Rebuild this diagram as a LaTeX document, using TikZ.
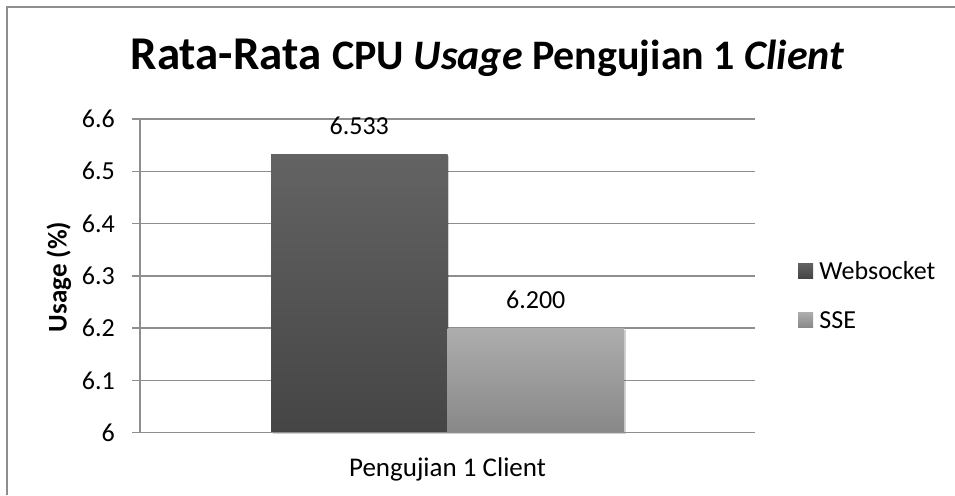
\documentclass[tikz,border=0pt]{standalone}
\usepackage{fontspec}
\setmainfont{Carlito}
\usetikzlibrary{positioning,shadows}

\definecolor{gridgray}{HTML}{8E8E8E}
\definecolor{wstop}{HTML}{636363}
\definecolor{wsbottom}{HTML}{454545}
\definecolor{ssetop}{HTML}{ADADAD}
\definecolor{ssebottom}{HTML}{888888}

\begin{document}
\begin{tikzpicture}[
    x=1pt, y=-1pt,
    gridline/.style={
        draw=gridgray,
        line width=1.3pt,
    },
    ticklabel/.style={
        anchor=east,
        inner sep=0pt,
        font=\fontsize{26}{30}\selectfont,
    },
    bar/.style={
        draw=none,
        inner sep=0pt,
        outer sep=0pt,
        minimum width=176.5pt,
        anchor=south west,
        general shadow={shadow xshift=1.5pt, shadow yshift=-1.5pt, fill=black, opacity=0.18},
    },
    valuelabel/.style={
        inner sep=0pt,
        font=\fontsize{26}{30}\selectfont,
    },
    legendbox/.style={
        draw=none,
        inner sep=0pt,
        minimum size=15pt,
    },
]
\useasboundingbox (0,0) rectangle (955,495);

% chart frame (only top and left edges fall on the page)
\draw[draw=gridgray, line width=1.5pt] (7,495) -- (7,7) -- (955,7);

\node[anchor=base] (title) at (487.5,70) {%
    \bfseries\fontsize{47}{54}\selectfont Rata-Rata
    \fontsize{42}{48}\selectfont CPU \textit{Usage} Pengujian 1 \textit{Client}};

% value axis: 6.0 to 6.6, 0.1 = 52.28
\foreach \v/\lab in {0/6,1/6.1,2/6.2,3/6.3,4/6.4,5/6.5,6/6.6} {
    \draw[gridline] (132,432.7-52.28*\v) -- (755,432.7-52.28*\v);
    \node[ticklabel] (tick\v) at (115,432.7-52.28*\v) {\lab};
}
\draw[gridline] (140,119) -- (140,432.7);

\node[rotate=90, font=\bfseries\fontsize{27}{30}\selectfont] (ylab) at (59,277) {Usage (\%)};

% bars
\node[bar, minimum height=278.7pt, top color=wstop, bottom color=wsbottom] (ws) at (271,432.7) {};
\node[bar, minimum height=104.6pt, top color=ssetop, bottom color=ssebottom] (sse) at (447.5,432.7) {};
\draw[gridline] (140,432.7) -- (755,432.7);

\node[valuelabel, above=19pt of ws] (wsval) {6.533};
\node[valuelabel, above=19pt of sse] (sseval) {6.200};

\node[anchor=base, font=\fontsize{27}{30}\selectfont] (cat) at (447.5,476) {Pengujian 1 Client};

% legend
\node[legendbox, top color=wstop, bottom color=wsbottom] (wskey) at (805.5,270.5) {};
\node[right=6pt of wskey, inner sep=0pt, font=\fontsize{26}{30}\selectfont] (wstext) {Websocket};
\node[legendbox, top color=ssetop, bottom color=ssebottom] (ssekey) at (805.5,320) {};
\node[right=6pt of ssekey, inner sep=0pt, font=\fontsize{26}{30}\selectfont] (ssetext) {SSE};
\end{tikzpicture}
\end{document}
